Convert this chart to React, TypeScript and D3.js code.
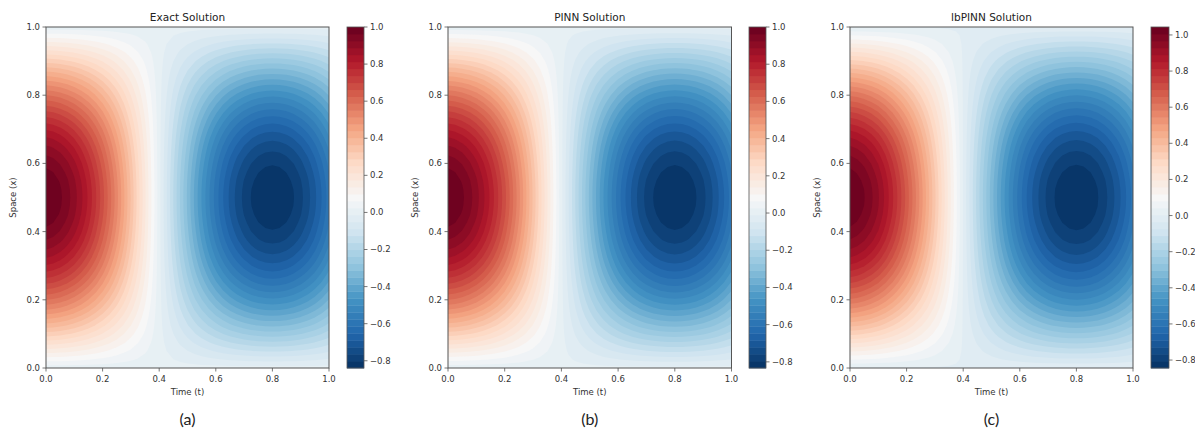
import React from "react";
import * as d3 from "d3";

// spatial profile u(x) read at x = 0, 0.025, ..., 1.0
const spaceProfile = [
  0, 0.079, 0.156, 0.233, 0.309, 0.383, 0.454, 0.523, 0.588, 0.649, 0.707,
  0.760, 0.809, 0.853, 0.891, 0.924, 0.951, 0.972, 0.988, 0.997, 1.0,
  0.997, 0.988, 0.972, 0.951, 0.924, 0.891, 0.853, 0.809, 0.760, 0.707,
  0.649, 0.588, 0.523, 0.454, 0.383, 0.309, 0.233, 0.156, 0.079, 0,
];

// time profiles at x = 0.5, read at t = 0, 0.025, ..., 1.0
const exactTime = [
  1.0, 0.990, 0.970, 0.941, 0.904, 0.858, 0.805, 0.744, 0.677, 0.604, 0.526,
  0.444, 0.358, 0.270, 0.181, 0.090, 0.0, -0.082, -0.164, -0.244, -0.321,
  -0.396, -0.466, -0.532, -0.593, -0.649, -0.698, -0.740, -0.775, -0.803, -0.823,
  -0.835, -0.839, -0.835, -0.823, -0.803, -0.775, -0.740, -0.698, -0.649, -0.593,
];
const pinnTime = [
  1.0, 0.990, 0.970, 0.941, 0.904, 0.858, 0.805, 0.744, 0.677, 0.604, 0.526,
  0.444, 0.358, 0.270, 0.181, 0.090, 0.0, -0.082, -0.163, -0.242, -0.319,
  -0.393, -0.463, -0.528, -0.589, -0.644, -0.693, -0.735, -0.770, -0.797, -0.817,
  -0.829, -0.833, -0.829, -0.817, -0.797, -0.770, -0.735, -0.693, -0.644, -0.589,
];
const lbpinnTime = [
  1.044, 1.031, 1.008, 0.975, 0.933, 0.880, 0.820, 0.754, 0.683, 0.607, 0.527,
  0.444, 0.358, 0.270, 0.180, 0.090, 0.0, -0.083, -0.165, -0.245, -0.323,
  -0.398, -0.469, -0.535, -0.597, -0.653, -0.702, -0.744, -0.780, -0.808, -0.828,
  -0.840, -0.844, -0.840, -0.828, -0.808, -0.780, -0.744, -0.702, -0.653, -0.597,
];

const axisTicks = [0, 0.2, 0.4, 0.6, 0.8, 1.0];
const colorbarTicks = [-0.8, -0.6, -0.4, -0.2, 0, 0.2, 0.4, 0.6, 0.8, 1.0];
const titles = ["Exact Solution", "PINN Solution", "lbPINN Solution"];
const captions = ["(a)", "(b)", "(c)"];
const timeSeries = [exactTime, pinnTime, lbpinnTime];

const NLEVELS = 50;

const rdbu = [
  "#67001f", "#b2182b", "#d6604d", "#f4a582", "#fddbc7", "#f7f7f7",
  "#d1e5f0", "#92c5de", "#4393c3", "#2166ac", "#053061",
];
const rdbuR = d3
  .scaleLinear<string>()
  .domain(d3.range(11).map((i) => i / 10))
  .range(rdbu.slice().reverse())
  .interpolate(d3.interpolateRgb)
  .clamp(true);

const fmt = (v: number) => d3.format(".1f")(v).replace("-", "\u2212");

const layout = [
  { px0: 46, px1: 329, cb0: 347, cb1: 364 },
  { px0: 448, px1: 731.5, cb0: 749, cb1: 766 },
  { px0: 850, px1: 1133, cb0: 1151, cb1: 1169 },
];
const PY0 = 27;
const PY1 = 368;

const tickFont = "DejaVu Sans, sans-serif";

function Panel({ idx }: { idx: number }) {
  const L = layout[idx];
  const tProf = timeSeries[idx];
  const nx = tProf.length;
  const ny = spaceProfile.length;
  const values: number[] = new Array(nx * ny);
  for (let j = 0; j < ny; j++)
    for (let i = 0; i < nx; i++) values[j * nx + i] = tProf[i] * spaceProfile[j];
  const vmin = d3.min(values) as number;
  const vmax = d3.max(values) as number;
  const levels = d3.range(NLEVELS).map((k) => vmin + ((vmax - vmin) * k) / (NLEVELS - 1));
  const bandColor = (k: number) => {
    const mid = (levels[k] + levels[k + 1]) / 2;
    return rdbuR((mid - vmin) / (vmax - vmin));
  };

  const xs = d3.scaleLinear().domain([0, 1]).range([L.px0, L.px1]);
  const ys = d3.scaleLinear().domain([0, 1]).range([PY1, PY0]);
  const cs = d3.scaleLinear().domain([vmin, vmax]).range([PY1, PY0]);

  const contours = d3
    .contours()
    .size([nx, ny])
    .thresholds(levels.slice(0, NLEVELS - 1))(values);

  const proj = d3.geoTransform({
    point(x: number, y: number) {
      (this as any).stream.point(xs((x - 0.5) / (nx - 1)), ys((y - 0.5) / (ny - 1)));
    },
  });
  const path = d3.geoPath(proj as any);
  const clipId = `clip${idx}`;
  const cx = (L.px0 + L.px1) / 2;

  return (
    <g>
      <defs>
        <clipPath id={clipId}>
          <rect x={L.px0} y={PY0} width={L.px1 - L.px0} height={PY1 - PY0} />
        </clipPath>
      </defs>
      <g clipPath={`url(#${clipId})`}>
        <rect x={L.px0} y={PY0} width={L.px1 - L.px0} height={PY1 - PY0} fill={bandColor(0)} />
        {contours.map((c, k) => (
          <path key={k} d={path(c as any) || ""} fill={bandColor(k)} stroke="none" />
        ))}
      </g>
      <rect x={L.px0} y={PY0} width={L.px1 - L.px0} height={PY1 - PY0} fill="none" stroke="#555" strokeWidth={1} />
      {axisTicks.map((t) => (
        <g key={"x" + t}>
          <line x1={xs(t)} x2={xs(t)} y1={PY1} y2={PY1 + 3.5} stroke="#555" strokeWidth={0.8} />
          <text x={xs(t)} y={382} textAnchor="middle" fontFamily={tickFont} fontSize={8.5} fill="#333">
            {fmt(t)}
          </text>
        </g>
      ))}
      {axisTicks.map((t) => (
        <g key={"y" + t}>
          <line x1={L.px0 - 3.5} x2={L.px0} y1={ys(t)} y2={ys(t)} stroke="#555" strokeWidth={0.8} />
          <text x={L.px0 - 6} y={ys(t)} dy="0.35em" textAnchor="end" fontFamily={tickFont} fontSize={8.5} fill="#333">
            {fmt(t)}
          </text>
        </g>
      ))}
      <text x={cx} y={394.5} textAnchor="middle" fontFamily={tickFont} fontSize={8.5} fill="#333">
        Time (t)
      </text>
      <text
        transform={`translate(${L.px0 - 33},${(PY0 + PY1) / 2}) rotate(-90)`}
        textAnchor="middle"
        dy="0.35em"
        fontFamily={tickFont}
        fontSize={8.5}
        fill="#333"
      >
        Space (x)
      </text>
      <text x={cx} y={21} textAnchor="middle" fontFamily={tickFont} fontSize={10.5} fill="#222">
        {titles[idx]}
      </text>
      {levels.slice(0, NLEVELS - 1).map((lv, k) => (
        <rect
          key={"cb" + k}
          x={L.cb0}
          y={cs(levels[k + 1])}
          width={L.cb1 - L.cb0}
          height={cs(lv) - cs(levels[k + 1]) + 0.4}
          fill={bandColor(k)}
        />
      ))}
      <rect x={L.cb0} y={PY0} width={L.cb1 - L.cb0} height={PY1 - PY0} fill="none" stroke="#555" strokeWidth={0.8} />
      {colorbarTicks
        .filter((v) => v >= vmin && v <= vmax + 1e-9)
        .map((v) => (
          <g key={"ct" + v}>
            <line x1={L.cb1} x2={L.cb1 + 3.5} y1={cs(v)} y2={cs(v)} stroke="#555" strokeWidth={0.8} />
            <text x={L.cb1 + 6} y={cs(v)} dy="0.35em" fontFamily={tickFont} fontSize={8.5} fill="#333">
              {fmt(v)}
            </text>
          </g>
        ))}
      <text x={cx} y={425} textAnchor="middle" fontFamily="Lato, 'Open Sans', sans-serif" fontSize={16} fill="#222">
        {captions[idx]}
      </text>
    </g>
  );
}

export default function App() {
  return (
    <svg
      width={1195}
      height={430}
      style={{ position: "absolute", left: 0, top: 0, display: "block", background: "#fff" }}
    >
      <rect width={1195} height={430} fill="#fff" />
      {[0, 1, 2].map((i) => (
        <Panel key={i} idx={i} />
      ))}
    </svg>
  );
}
